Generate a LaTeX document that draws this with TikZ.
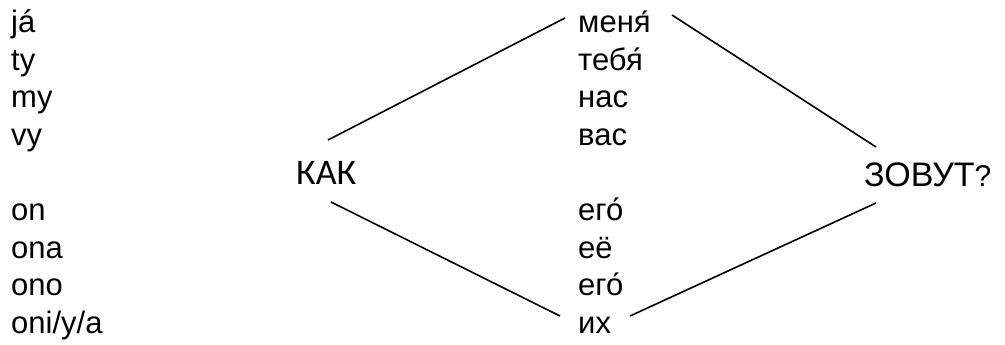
\documentclass[tikz,border=0pt]{standalone}
\usepackage{fontspec}
\setmainfont{Liberation Sans}
\newfontfamily\kakfont{Carlito}
\begin{document}
\begin{tikzpicture}[x=1pt,y=-1pt,
  word/.style={anchor=base west,inner sep=0pt,font=\fontsize{31}{37}\selectfont},
  big/.style={anchor=base west,inner sep=0pt,font=\fontsize{34}{41}\selectfont},
  link/.style={line width=1.6pt}]
\useasboundingbox (0,0) rectangle (1005,345);
% left column
\node[word] (ja) at (11,33) {já};
\node[word] (ty) at (11,70.5) {ty};
\node[word] (my) at (11,108) {my};
\node[word] (vy) at (11,145.5) {vy};
\node[word] (on) at (11,220.5) {on};
\node[word] (ona) at (11,258) {ona};
\node[word] (ono) at (11,295.5) {ono};
\node[word] (oni) at (11,333) {oni/y/a};
% middle column
\node[word] (menya) at (578,33) {меня́};
\node[word] (tebya) at (578,70.5) {тебя́};
\node[word] (nas) at (578,108) {нас};
\node[word] (vas) at (578,145.5) {вас};
\node[word] (ego) at (578,220.5) {его́};
\node[word] (eyo) at (578,258) {её};
\node[word] (ego2) at (578,295.5) {его́};
\node[word] (ikh) at (578,333) {их};
% big words
\node[anchor=base west,inner sep=0pt,font=\kakfont\fontsize{36}{43}\selectfont] (kak) at (296,184) {КАК};
\node[big] (zovut) at (864,186) {ЗОВУТ\fontsize{30}{36}\selectfont ?};
% connector ends
\coordinate (kakNE) at (328,140);
\coordinate (kakSE) at (331,202);
\coordinate (menyaW) at (565,18);
\coordinate (menyaE) at (672,15);
\coordinate (ikhW) at (560,316);
\coordinate (ikhE) at (630,316);
\coordinate (zovutNW) at (876,147);
\coordinate (zovutSW) at (876,203);
\draw[link] (kakNE) -- (menyaW);
\draw[link] (menyaE) -- (zovutNW);
\draw[link] (kakSE) -- (ikhW);
\draw[link] (ikhE) -- (zovutSW);
\end{tikzpicture}
\end{document}
